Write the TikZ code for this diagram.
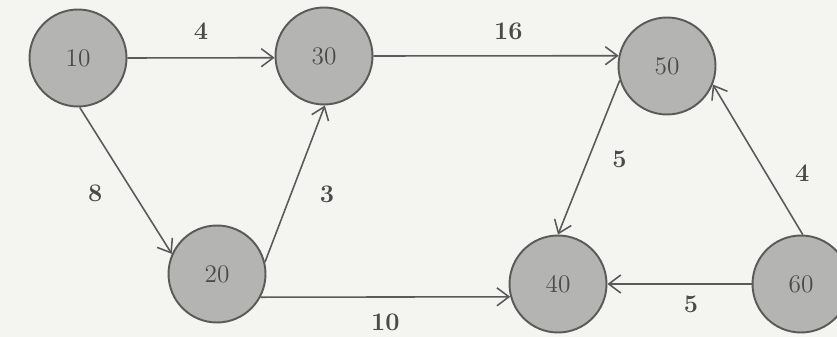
\documentclass[tikz,border=0pt]{standalone}
\usepackage{xcolor}
\usepackage{tikz}
\usetikzlibrary{arrows.meta, positioning}
\definecolor{paper}{HTML}{F4F4F1}
\definecolor{nodefill}{HTML}{B4B4B2}
\definecolor{nodeline}{HTML}{5A5A5A}
\definecolor{inkgray}{HTML}{4A4A4A}

\begin{document}
\begin{tikzpicture}[x=0.02cm, y=-0.02cm,
    event/.style={circle, draw=nodeline, fill=nodefill, line width=1.1pt,
                  minimum size=1.94cm, inner sep=0pt, font=\Large, text=inkgray},
    arrow/.style={-{Straight Barb[length=2.4mm, width=3.6mm]}, line width=0.9pt, color=nodeline},
    weight/.style={font=\Large\bfseries, text=inkgray}
]
\fill[paper] (0,0) rectangle (837,337);
\useasboundingbox (0,0) rectangle (837,337);

\node[event] (n10) at (78,58)   {10};
\node[event] (n30) at (324,56)  {30};
\node[event] (n50) at (667,66)  {50};
\node[event] (n20) at (217,274) {20};
\node[event] (n40) at (558,284) {40};
\node[event] (n60) at (801,284) {60};

\draw[arrow] (n10.east) -- node[weight, above=0.24cm] (w1030) {4} (n30.182);
\draw[arrow] (n30.east) -- node[weight, above=0.18cm, pos=0.55] (w3050) {16} (n50.168);
\draw[arrow] (n10.-88) -- node[weight, left=0.5cm, pos=0.59] (w1020) {8} (n20.156);
\draw[arrow] (n20.14) -- node[weight, right=0.45cm, pos=0.43] (w2030) {3} (n30.-89);
\draw[arrow] (n20.-28) -- node[weight, below=0.2cm] (w2040) {10} (n40.195);
\draw[arrow] (n50.197) -- node[weight, right=0.35cm, pos=0.51] (w5040) {5} (n40.north);
\draw[arrow] (n60.88) -- node[weight, right=0.45cm, pos=0.41] (w6050) {4} (n50.-22);
\draw[arrow] (n60.west) -- node[weight, below=0.1cm, pos=0.42] (w6040) {5} (n40.east);
\end{tikzpicture}
\end{document}
